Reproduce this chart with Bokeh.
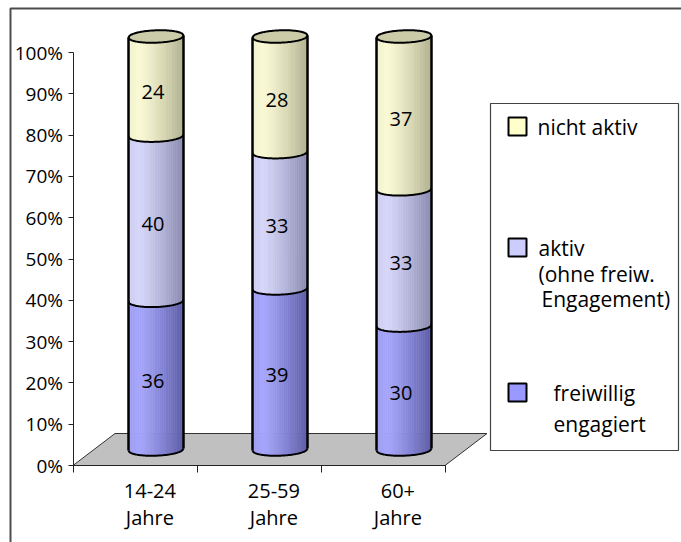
import numpy as np
from bokeh.plotting import figure
from bokeh.models import Range1d, LinearAxis, FixedTicker, PrintfTickFormatter
from bokeh.core.properties import value
from bokeh.embed import file_html
from bokeh.resources import INLINE

# ---------------------------------------------------------------- data
age_groups = ["14-24 Jahre", "25-59 Jahre", "60+ Jahre"]
freiwillig_engagiert = [36, 39, 30]
aktiv_ohne_engagement = [40, 33, 33]
nicht_aktiv = [24, 28, 37]
percent_ticks = [0, 10, 20, 30, 40, 50, 60, 70, 80, 90, 100]
category_ticks = [0, 1, 2, 3]

# stacking order: bottom to top
series = [freiwillig_engagiert, aktiv_ohne_engagement, nicht_aktiv]
legend_text = [
    ["freiwillig", "engagiert"],
    ["aktiv", "(ohne freiw.", "Engagement)"],
    ["nicht aktiv"],
]
swatch_colors = ["#9999FF", "#CCCCFF", "#FFFFCC"]
shade_light = [(166, 166, 252), (214, 214, 250), (250, 250, 214)]
shade_dark = [(92, 92, 166), (138, 138, 176), (178, 178, 144)]
cap_color = "#CBCBA8"

FONT = value("Open Sans")

# ---------------------------------------------------------------- canvas
W, H = 681, 542
X0, CATW = 72.5, 124.0     # pixel of category position 0, pixels per category
Y0, PCT = 465.0, 4.13      # pixel of 0 %, pixels per percent


def sx(px):
    return (px - X0) / CATW


def sy(py):
    return (Y0 - py) / PCT


p = figure(width=W, height=H, output_backend="svg", toolbar_location=None,
           x_range=Range1d(sx(0), sx(W)), y_range=Range1d(sy(H), sy(0)),
           x_axis_location=None, y_axis_location=None, min_border=0)
p.xgrid.visible = False
p.ygrid.visible = False
p.outline_line_color = None
p.background_fill_color = "white"
p.border_fill_color = "white"

# 3-D depth of the floor and cylinder shape (data units)
DEPTH_X = 42 / CATW
DEPTH_Y = 32 / PCT
RX = 27.5 / CATW
RY = 6.2 / PCT
TILT = 1.0 / PCT
BASE = DEPTH_Y / 2

# outer frame of the chart area
p.line([sx(10), sx(10), sx(W + 2)], [sy(H + 2), sy(8), sy(8)],
       line_color="#4d4d4d", line_width=2)

# floor
n = len(age_groups)
p.patch([0, DEPTH_X, n + DEPTH_X, n], [0, DEPTH_Y, DEPTH_Y, 0],
        fill_color="#C0C0C0", line_color="#333333", line_width=1)


def front_arc(cx, yc, u):
    return yc + TILT * u - RY * np.sqrt(np.clip(1 - u * u, 0, 1))


def back_arc(cx, yc, u):
    return yc + TILT * u + RY * np.sqrt(np.clip(1 - u * u, 0, 1))


def shade(k, t):
    if t < 0.2:
        w = 0.12 * (1 - t / 0.2)
    else:
        w = ((t - 0.2) / 0.8) ** 1.2
    lo, hi = shade_light[k], shade_dark[k]
    r, g, b = (int(round(lo[c] + (hi[c] - lo[c]) * w)) for c in range(3))
    return "#%02x%02x%02x" % (r, g, b)


n_strips = 30
u_edges = np.linspace(-1, 1, n_strips + 1)
strip_xs, strip_ys, strip_col = [], [], []
arc_xs, arc_ys = [], []
side_xs, side_ys = [], []
cap_xs, cap_ys = [], []
lab_x, lab_y, lab_t = [], [], []

for i in range(n):
    cx = i + 0.5 + DEPTH_X / 2
    cum = 0.0
    levels = [0.0]
    for k, vals in enumerate(series):
        v = vals[i]
        lo, hi = cum, cum + v
        for j in range(n_strips):
            u = np.linspace(u_edges[j], u_edges[j + 1], 4)
            xs = cx + RX * u
            yb = front_arc(cx, BASE + lo, u)
            yt = front_arc(cx, BASE + hi, u)
            strip_xs.append(list(np.concatenate([xs, xs[::-1]])))
            strip_ys.append(list(np.concatenate([yb, yt[::-1]])))
            strip_col.append(shade(k, (j + 0.5) / n_strips))
        lab_x.append(cx - 0.025)
        lab_y.append(BASE + (lo + hi) / 2 - 1.4)
        lab_t.append(str(v))
        cum = hi
        levels.append(cum)
    total = cum
    uu = np.linspace(-1, 1, 61)
    # visible front arcs at the bottom and between segments
    for lvl in levels[:-1]:
        arc_xs.append(list(cx + RX * uu))
        arc_ys.append(list(front_arc(cx, BASE + lvl, uu)))
    # silhouette sides
    side_xs += [[cx - RX, cx - RX], [cx + RX, cx + RX]]
    side_ys += [[BASE - TILT, BASE + total - TILT], [BASE + TILT, BASE + total + TILT]]
    # top cap
    cap_xs.append(list(np.concatenate([cx + RX * uu, cx + RX * uu[::-1]])))
    cap_ys.append(list(np.concatenate([front_arc(cx, BASE + total, uu),
                                       back_arc(cx, BASE + total, uu[::-1])])))

p.patches(strip_xs, strip_ys, fill_color=strip_col, line_color=strip_col, line_width=0.6)
p.patches(cap_xs, cap_ys, fill_color=cap_color, line_color="black", line_width=2)
p.multi_line(arc_xs, arc_ys, line_color="black", line_width=2)
p.multi_line(side_xs, side_ys, line_color="black", line_width=2.5)

p.text(lab_x, lab_y, text=lab_t, text_font=FONT, text_font_size="20px",
       text_align="center", text_baseline="middle", text_color="black")

# axes
yaxis = LinearAxis(fixed_location=0, bounds=(0, 100),
                   ticker=FixedTicker(ticks=percent_ticks),
                   formatter=PrintfTickFormatter(format="%d%%"),
                   major_tick_out=5, major_tick_in=0,
                   minor_tick_out=0, minor_tick_in=0,
                   axis_line_color="#222222", major_tick_line_color="#222222",
                   major_label_text_font="Open Sans", major_label_text_font_size="19px",
                   major_label_text_color="black", major_label_standoff=5)
p.add_layout(yaxis, "left")

xaxis = LinearAxis(fixed_location=0, bounds=(0, n),
                   ticker=FixedTicker(ticks=category_ticks),
                   major_label_overrides={t: "" for t in category_ticks},
                   major_tick_out=7, major_tick_in=0,
                   minor_tick_out=0, minor_tick_in=0,
                   axis_line_color="#222222", major_tick_line_color="#222222")
p.add_layout(xaxis, "below")

# category labels (two lines)
cat_x = [i + 0.62 for i in range(n)]
first = [g.split(" ")[0] for g in age_groups]
second = [g.split(" ")[1] for g in age_groups]
p.text(cat_x, [sy(490)] * n, text=first, text_font=FONT, text_font_size="20px",
       text_align="center", text_baseline="middle", text_color="black")
p.text(cat_x, [sy(517)] * n, text=second, text_font=FONT, text_font_size="20px",
       text_align="center", text_baseline="middle", text_color="black")

# legend
p.quad(left=[sx(490)], right=[sx(678)], top=[sy(103)], bottom=[sy(450)],
       fill_color="white", line_color="#444444", line_width=1.2)
sw_y = [392, 247, 126]
half = 9
p.quad(left=[sx(517 - half)] * 3, right=[sx(517 + half)] * 3,
       top=[sy(y - half) for y in sw_y], bottom=[sy(y + half) for y in sw_y],
       fill_color=swatch_colors, line_color="black", line_width=2)
line_pos = [[(553, 392), (553, 423)],
            [(538, 247), (538, 273), (541, 298)],
            [(537, 126)]]
tx, ty, tt = [], [], []
for lines, pos in zip(legend_text, line_pos):
    for s, (x, y) in zip(lines, pos):
        tx.append(sx(x))
        ty.append(sy(y))
        tt.append(s)
p.text(tx, ty, text=tt, text_font=FONT, text_font_size="21px",
       text_align="left", text_baseline="middle", text_color="black")

open("out.html", "w").write(file_html(p, INLINE))
